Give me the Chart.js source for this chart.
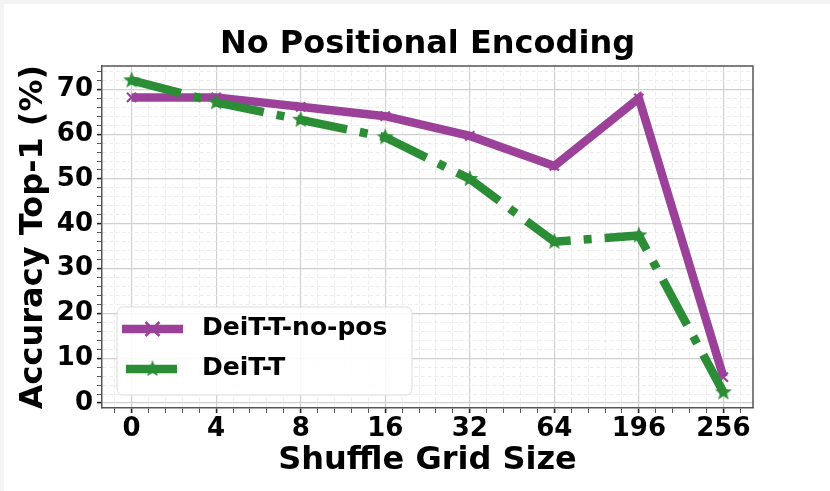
<!DOCTYPE html>
<html>
<head>
<meta charset="utf-8">
<script src="https://cdn.jsdelivr.net/npm/chart.js@4"></script>
<style>
  html, body { margin: 0; padding: 0; background: #f4f4f4; }
  #wrap { position: absolute; left: 4px; top: 4px; width: 826px; height: 487px; background: #fff; }
  canvas { display: block; }
</style>
</head>
<body>
<div id="wrap"><canvas id="chart" width="826" height="487"></canvas></div>
<script>
// ── Data ──────────────────────────────────────────────────────────────────────
const gridSizes   = ['0', '4', '8', '16', '32', '64', '196', '256'];
const noPosAcc    = [68.2, 68.2, 66.1, 64.0, 59.6, 52.9, 68.0, 5.8];
const deitAcc     = [72.0, 67.1, 63.2, 59.3, 50.0, 36.0, 37.4, 2.4];
const yTickLabels = [0, 10, 20, 30, 40, 50, 60, 70];
const chartTitle  = 'No Positional Encoding';

// ── Style ─────────────────────────────────────────────────────────────────────
const PURPLE = '#9c4199';
const GREEN  = '#2b8d35';
const FONT   = "'DejaVu Sans', sans-serif";
const DASHDOT = [51, 13, 8, 13];

const isInt = v => Math.abs(v - Math.round(v)) < 1e-6;

function starImage(color, r) {
  const c = document.createElement('canvas');
  const s = Math.ceil(r * 2 + 2);
  c.width = c.height = s;
  const g = c.getContext('2d');
  g.fillStyle = color;
  g.beginPath();
  for (let i = 0; i < 10; i++) {
    const rad = i % 2 ? r * 0.42 : r;
    const a = -Math.PI / 2 + i * Math.PI / 5;
    g.lineTo(s / 2 + rad * Math.cos(a), s / 2 + rad * Math.sin(a));
  }
  g.closePath();
  g.fill();
  return c;
}
const greenStar = starImage(GREEN, 9);

// ── Plugins: frame, title over plot, legend inside plot ───────────────────────
const framePlugin = {
  id: 'frame',
  afterDraw(chart) {
    const { ctx, chartArea: a } = chart;
    ctx.save();
    ctx.strokeStyle = '#555';
    ctx.lineWidth = 1.5;
    ctx.beginPath();
    ctx.moveTo(a.left, a.top);
    ctx.lineTo(a.right, a.top);
    ctx.lineTo(a.right, a.bottom);
    ctx.stroke();

    // title centred over the plot area, like matplotlib
    ctx.fillStyle = '#000';
    ctx.font = 'bold 32px ' + FONT;
    ctx.textAlign = 'center';
    ctx.textBaseline = 'middle';
    ctx.fillText(chartTitle, (a.left + a.right) / 2, a.top - 21);
    ctx.restore();
  }
};

const legendPlugin = {
  id: 'insideLegend',
  afterDraw(chart) {
    const { ctx, chartArea: a } = chart;
    const x = a.left + 15, w = 295, h = 88, y = a.bottom - 13 - h;
    ctx.save();
    ctx.fillStyle = 'rgba(255,255,255,0.85)';
    ctx.strokeStyle = '#dcdcdc';
    ctx.lineWidth = 1;
    ctx.beginPath();
    ctx.roundRect(x, y, w, h, 6);
    ctx.fill();
    ctx.stroke();

    const rows = [chart.data.datasets[1], chart.data.datasets[0]];
    rows.forEach((ds, i) => {
      const ry = y + 22 + i * 40;
      ctx.strokeStyle = ds.borderColor;
      ctx.lineWidth = ds.borderWidth;
      ctx.lineCap = 'butt';
      ctx.setLineDash(ds.borderDash || []);
      ctx.beginPath();
      ctx.moveTo(x + (ds.borderDash ? 9 : 5), ry);
      ctx.lineTo(x + 66, ry);
      ctx.stroke();
      ctx.setLineDash([]);
      const mx = x + 35.5;
      if (ds.pointStyle === 'crossRot') {
        ctx.lineWidth = 2.5;
        const r = 7;
        ctx.beginPath();
        ctx.moveTo(mx - r, ry - r); ctx.lineTo(mx + r, ry + r);
        ctx.moveTo(mx + r, ry - r); ctx.lineTo(mx - r, ry + r);
        ctx.stroke();
      } else {
        ctx.drawImage(greenStar, mx - greenStar.width / 2, ry - greenStar.height / 2);
      }
      ctx.fillStyle = '#000';
      ctx.font = 'bold 25px ' + FONT;
      ctx.textBaseline = 'middle';
      ctx.fillText(ds.label, x + 85, ry - 1);
    });
    ctx.restore();
  }
};

// ── Chart ─────────────────────────────────────────────────────────────────────
const toPoints = arr => arr.map((v, i) => ({ x: i, y: v }));

new Chart(document.getElementById('chart'), {
  type: 'line',
  data: {
    datasets: [
      {
        label: 'DeiT-T',
        data: toPoints(deitAcc),
        borderColor: GREEN,
        backgroundColor: GREEN,
        borderWidth: 8.5,
        borderDash: DASHDOT,
        borderCapStyle: 'butt',
        pointStyle: greenStar,
        pointRadius: 9,
        tension: 0,
        order: 0,
      },
      {
        label: 'DeiT-T-no-pos',
        data: toPoints(noPosAcc),
        borderColor: PURPLE,
        backgroundColor: PURPLE,
        borderWidth: 8.5,
        borderCapStyle: 'butt',
        pointStyle: 'crossRot',
        pointRadius: 6.5,
        pointBorderWidth: 2.2,
        pointBorderColor: PURPLE,
        tension: 0,
        order: 1,
      },
    ]
  },
  options: {
    responsive: false,
    animation: false,
    layout: { padding: { left: 0, right: 77, top: 62, bottom: 0 } },
    plugins: {
      legend: { display: false },
      tooltip: { enabled: false },
      title: { display: false },
    },
    scales: {
      x: {
        type: 'linear',
        min: -0.35,
        max: gridSizes.length - 1 + 0.35,
        afterBuildTicks: s => {
          const t = [];
          for (let i = -1; i <= (gridSizes.length - 1) * 5 + 1; i++) t.push({ value: i * 0.2 });
          s.ticks = t;
        },
        afterFit: s => { s.height = 83; },
        ticks: {
          autoSkip: false,
          maxRotation: 0,
          padding: 1,
          color: '#000',
          font: { family: FONT, size: 26, weight: 'bold' },
          callback: v => isInt(v) ? gridSizes[Math.round(v)] : '',
        },
        grid: {
          color: c => c.tick && isInt(c.tick.value) ? '#d0d0d0' : '#ebebeb',
          lineWidth: c => c.tick && isInt(c.tick.value) ? 1.2 : 0.9,
          tickColor: c => c.tick && isInt(c.tick.value) ? '#222' : '#555',
          tickWidth: c => c.tick && isInt(c.tick.value) ? 1.6 : 1,
          tickLength: 5,
        },
        border: {
          color: '#555',
          width: 1.5,
          dash: c => c.tick && !isInt(c.tick.value) ? [4, 2.5] : [],
        },
        title: {
          display: true,
          text: 'Shuffle Grid Size',
          color: '#000',
          font: { family: FONT, size: 32, weight: 'bold' },
          padding: { top: 0, bottom: 11 },
        },
      },
      y: {
        min: -1.1,
        max: 75.2,
        afterBuildTicks: s => {
          const t = [];
          for (let v = 0; v <= 74; v += 2) t.push({ value: v });
          s.ticks = t;
        },
        afterFit: s => { s.width = 98; },
        ticks: {
          autoSkip: false,
          padding: 4,
          color: '#000',
          font: { family: FONT, size: 26, weight: 'bold' },
          callback: v => yTickLabels.includes(v) ? String(v) : '',
        },
        grid: {
          color: c => c.tick && c.tick.value % 10 === 0 ? '#d0d0d0' : '#ebebeb',
          lineWidth: c => c.tick && c.tick.value % 10 === 0 ? 1.2 : 0.9,
          tickColor: c => c.tick && c.tick.value % 10 === 0 ? '#222' : '#555',
          tickWidth: c => c.tick && c.tick.value % 10 === 0 ? 1.6 : 1,
          tickLength: 5,
        },
        border: {
          color: '#555',
          width: 1.5,
          dash: c => c.tick && c.tick.value % 10 !== 0 ? [4, 2.5] : [],
        },
        title: {
          display: true,
          text: 'Accuracy Top-1 (%)',
          color: '#000',
          font: { family: FONT, size: 32, weight: 'bold' },
          padding: { top: 10, bottom: 0 },
        },
      },
    },
  },
  plugins: [framePlugin, legendPlugin],
});
</script>
</body>
</html>
